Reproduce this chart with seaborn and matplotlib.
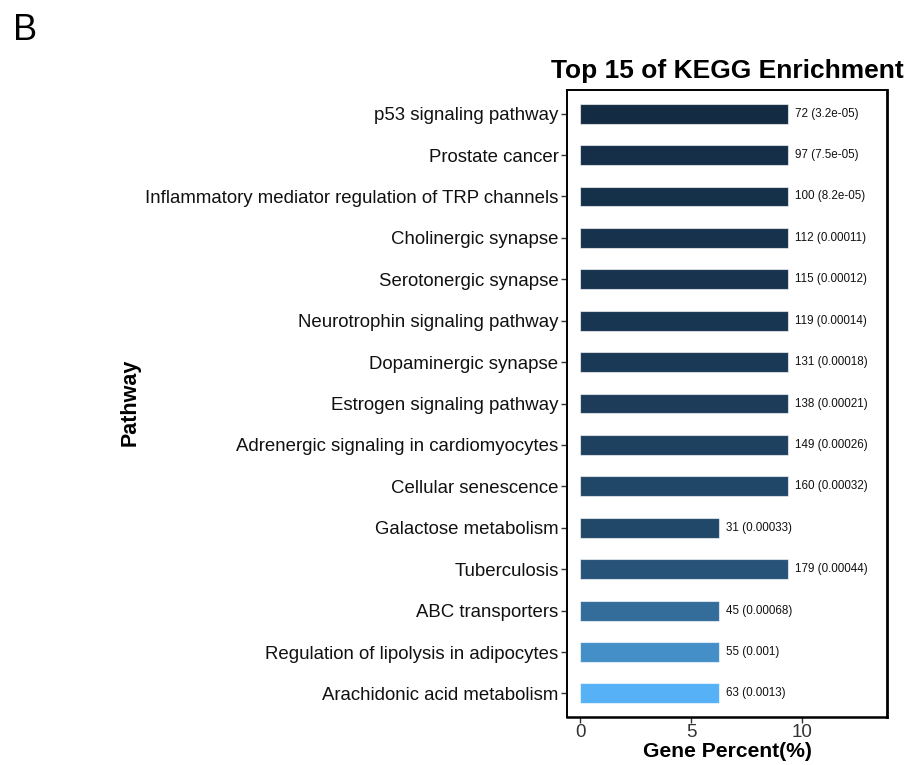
import numpy as np
import pandas as pd
import matplotlib
matplotlib.use("Agg")
import matplotlib.pyplot as plt
import seaborn as sns

# KEGG enrichment results (top 15 by p-value)
pathways = [
    "p53 signaling pathway",
    "Prostate cancer",
    "Inflammatory mediator regulation of TRP channels",
    "Cholinergic synapse",
    "Serotonergic synapse",
    "Neurotrophin signaling pathway",
    "Dopaminergic synapse",
    "Estrogen signaling pathway",
    "Adrenergic signaling in cardiomyocytes",
    "Cellular senescence",
    "Galactose metabolism",
    "Tuberculosis",
    "ABC transporters",
    "Regulation of lipolysis in adipocytes",
    "Arachidonic acid metabolism",
]
gene_counts = [72, 97, 100, 112, 115, 119, 131, 138, 149, 160, 31, 179, 45, 55, 63]
p_values = [3.2e-05, 7.5e-05, 8.2e-05, 0.00011, 0.00012, 0.00014, 0.00018,
            0.00021, 0.00026, 0.00032, 0.00033, 0.00044, 0.00068, 0.001, 0.0013]
gene_percent = [9.4, 9.4, 9.4, 9.4, 9.4, 9.4, 9.4, 9.4, 9.4, 9.4,
                6.28, 9.4, 6.28, 6.28, 6.28]

df = pd.DataFrame({"Pathway": pathways, "Count": gene_counts,
                   "P": p_values, "Percent": gene_percent})


# --- continuous fill scale (dark navy -> light blue), interpolated in CIELab ---
def _srgb_to_lab(hexcol):
    rgb = np.array(matplotlib.colors.to_rgb(hexcol))
    lin = np.where(rgb <= 0.04045, rgb / 12.92, ((rgb + 0.055) / 1.055) ** 2.4)
    M = np.array([[0.4124, 0.3576, 0.1805],
                  [0.2126, 0.7152, 0.0722],
                  [0.0193, 0.1192, 0.9505]])
    xyz = M @ lin / np.array([0.95047, 1.0, 1.08883])
    f = np.where(xyz > 0.008856, np.cbrt(xyz), 7.787 * xyz + 16 / 116)
    return np.array([116 * f[1] - 16, 500 * (f[0] - f[1]), 200 * (f[1] - f[2])])


def _lab_to_srgb(lab):
    L, a, b = lab
    fy = (L + 16) / 116
    fx = fy + a / 500
    fz = fy - b / 200
    f = np.array([fx, fy, fz])
    xyz = np.where(f ** 3 > 0.008856, f ** 3, (f - 16 / 116) / 7.787)
    xyz = xyz * np.array([0.95047, 1.0, 1.08883])
    Minv = np.array([[3.2406, -1.5372, -0.4986],
                     [-0.9689, 1.8758, 0.0415],
                     [0.0557, -0.2040, 1.0570]])
    lin = Minv @ xyz
    rgb = np.where(lin <= 0.0031308, 12.92 * lin, 1.055 * np.clip(lin, 0, None) ** (1 / 2.4) - 0.055)
    return tuple(np.clip(rgb, 0, 1))


low_lab = _srgb_to_lab("#132B43")
high_lab = _srgb_to_lab("#56B1F7")
pmin, pmax = min(p_values), max(p_values)
fill_colors = [_lab_to_srgb(low_lab + (p - pmin) / (pmax - pmin) * (high_lab - low_lab))
               for p in p_values]

# --- figure ---
sns.set_theme(style="white")
plt.rcParams["font.family"] = ["Liberation Sans", "DejaVu Sans"]

fig = plt.figure(figsize=(9.07, 7.65), dpi=100)
ax = fig.add_axes([0.625, 0.0627, 0.353, 0.8196])

sns.barplot(data=df, y="Pathway", x="Percent", hue="Pathway",
            palette=fill_colors, legend=False, width=0.48, saturation=1,
            edgecolor=(1, 1, 1, 0.6), linewidth=0.8, ax=ax, orient="h")

for i, (pct, cnt, p) in enumerate(zip(gene_percent, gene_counts, p_values)):
    ax.text(pct + 0.3, i, f"{cnt} ({p:g})", va="center", ha="left",
            fontsize=8.4, color="#111111")

ax.set_xlim(-0.6, 13.85)
ax.set_ylim(14.57, -0.57)
ax.set_xticks([0, 5, 10])
ax.tick_params(axis="both", which="both", direction="out", length=4, width=1,
               color="#333333", bottom=True, left=True)
ax.tick_params(axis="y", labelsize=13.45, labelcolor="#111111", pad=2)
ax.tick_params(axis="x", labelsize=13.5, labelcolor="#333333", pad=1)

for side, sp in ax.spines.items():
    sp.set_visible(True)
    sp.set_color("black")
    sp.set_linewidth(1.4)
ax.spines["right"].set_linewidth(2.0)
ax.spines["bottom"].set_linewidth(1.8)

ax.set_xlabel("Gene Percent(%)", fontsize=15.2, fontweight="bold",
              color="black", labelpad=1)
ax.set_ylabel("")
fig.text(0.143, 0.4745, "Pathway", rotation=90, fontsize=15.5, fontweight="bold",
         ha="center", va="center", color="black")
ax.set_title("Top 15 of KEGG Enrichment", fontsize=19, fontweight="bold",
             color="black", pad=9)

fig.text(0.014, 0.948, "B", fontsize=26, ha="left", va="baseline", color="black")

fig.savefig("out.png", dpi=100, facecolor="white")
